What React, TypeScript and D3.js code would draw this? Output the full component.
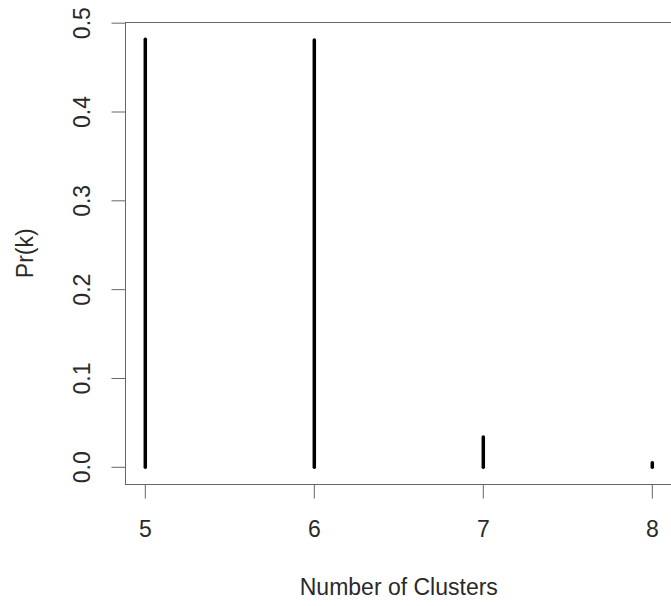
import * as d3 from "d3";
import React, { useEffect, useRef } from "react";

// number of clusters k and posterior probability Pr(k)
const clusters = [5, 6, 7, 8];
const probs = [0.482, 0.481, 0.034, 0.005];
const xTicks = [5, 6, 7, 8];
const yTicks = [0, 0.1, 0.2, 0.3, 0.4, 0.5];

const App: React.FC = () => {
  const svgRef = useRef<SVGSVGElement>(null);

  useEffect(() => {
    if (!svgRef.current) return;
    const svg = d3.select(svgRef.current);
    svg.selectAll("*").remove();

    const font = "'Liberation Sans', Arial, sans-serif";
    const fontSize = 23;
    const axisColor = "#666";
    const textColor = "#2a2a2a";
    const tickLen = 14;

    // R style 4% padding around data range
    const xMin = d3.min(clusters) as number;
    const xMax = d3.max(clusters) as number;
    const xPad = (xMax - xMin) * 0.04;
    const yMax = d3.max(probs) as number;
    const yPad = yMax * 0.04;

    const x = d3.scaleLinear().domain([xMin, xMax]).range([145.3, 652.3]);
    const y = d3.scaleLinear().domain([0, 0.4]).range([467.3, 112]);

    const left = x(xMin - xPad);
    const right = x(xMax + xPad);
    const top = y(yMax + yPad);
    const bottom = y(-yPad);

    // plot box
    svg
      .append("rect")
      .attr("x", Math.round(left) + 0.5)
      .attr("y", Math.round(top) + 0.5)
      .attr("width", right - left)
      .attr("height", Math.round(bottom) - Math.round(top))
      .attr("fill", "none")
      .attr("stroke", axisColor)
      .attr("stroke-width", 1);

    // spikes (type = "h")
    svg
      .selectAll(".spike")
      .data(clusters)
      .enter()
      .append("line")
      .attr("class", "spike")
      .attr("x1", (d) => x(d))
      .attr("x2", (d) => x(d))
      .attr("y1", y(0))
      .attr("y2", (d, i) => y(probs[i]))
      .attr("stroke", "#000")
      .attr("stroke-width", 3.5)
      .attr("stroke-linecap", "round");

    // x axis ticks + labels
    const bx = Math.round(bottom) + 0.5;
    xTicks.forEach((t) => {
      svg
        .append("line")
        .attr("x1", x(t))
        .attr("x2", x(t))
        .attr("y1", bx)
        .attr("y2", bx + tickLen)
        .attr("stroke", axisColor);
      svg
        .append("text")
        .attr("x", x(t))
        .attr("y", 537)
        .attr("text-anchor", "middle")
        .attr("font-family", font)
        .attr("font-size", fontSize)
        .attr("fill", textColor)
        .text(String(t));
    });

    // y axis ticks + labels
    const lx = Math.round(left) + 0.5;
    yTicks.forEach((t) => {
      svg
        .append("line")
        .attr("x1", lx - tickLen)
        .attr("x2", lx)
        .attr("y1", y(t))
        .attr("y2", y(t))
        .attr("stroke", axisColor);
      svg
        .append("text")
        .attr("transform", `translate(90,${y(t)}) rotate(-90)`)
        .attr("text-anchor", "middle")
        .attr("font-family", font)
        .attr("font-size", fontSize)
        .attr("fill", textColor)
        .text(d3.format(".1f")(t));
    });

    // axis titles
    svg
      .append("text")
      .attr("x", (left + right) / 2)
      .attr("y", 595)
      .attr("text-anchor", "middle")
      .attr("font-family", font)
      .attr("font-size", fontSize)
      .attr("fill", textColor)
      .text("Number of Clusters");

    svg
      .append("text")
      .attr("transform", `translate(33,${(top + bottom) / 2}) rotate(-90)`)
      .attr("text-anchor", "middle")
      .attr("font-family", font)
      .attr("font-size", fontSize)
      .attr("fill", textColor)
      .text("Pr(k)");
  }, []);

  return (
    <svg
      ref={svgRef}
      width={671}
      height={606}
      style={{ position: "absolute", left: 0, top: 0, background: "#fff" }}
    ></svg>
  );
};

export default App;
